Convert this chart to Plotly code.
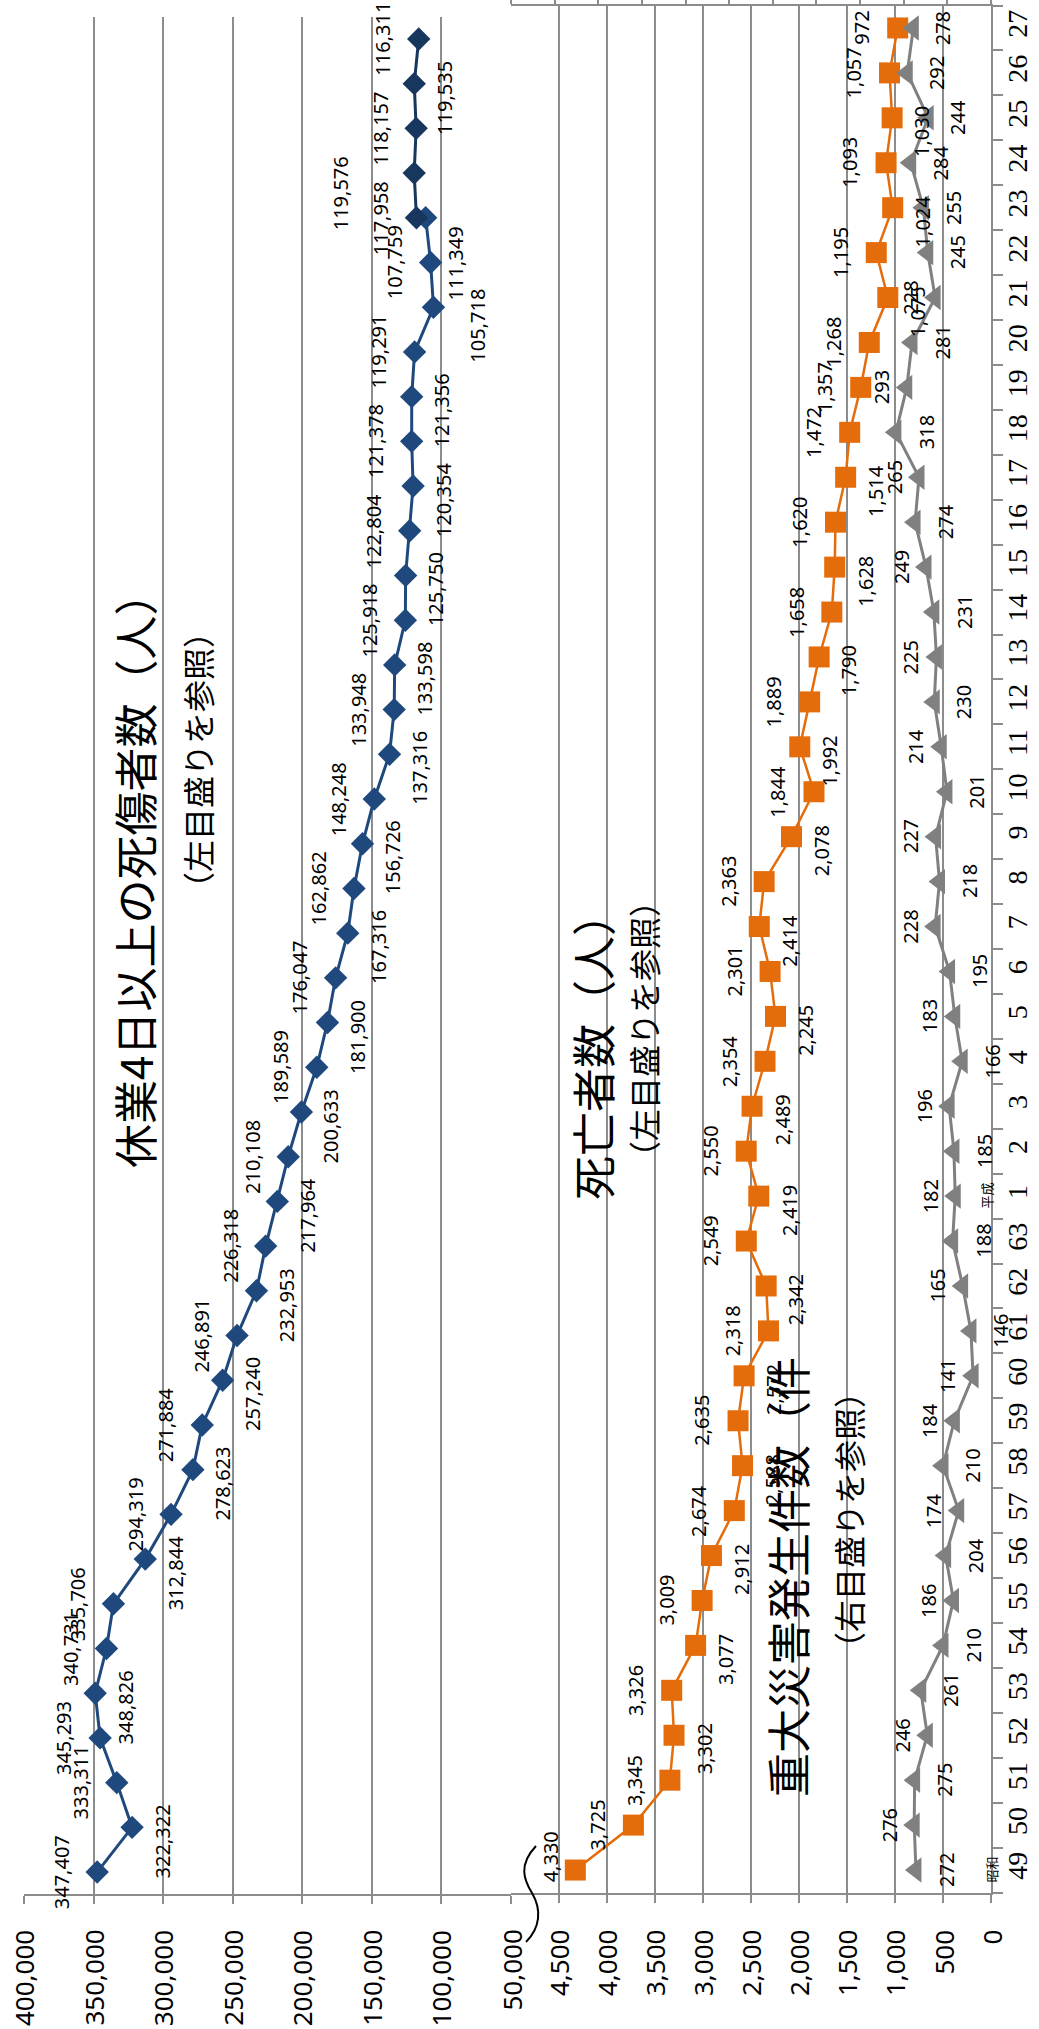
import plotly.graph_objects as go

# 年次：昭和49〜63年、平成元〜27年
years = [str(y) for y in range(49, 64)] + [str(y) for y in range(1, 28)]

# 休業4日以上の死傷者数（人） 昭和49〜平成23年
injuries = [347407, 322322, 333311, 345293, 348826, 340731, 335706, 312844,
            294319, 278623, 271884, 257240, 246891, 232953, 226318,
            217964, 210108, 200633, 189589, 181900, 176047, 167316, 162862,
            156726, 148248, 137316, 133948, 133598, 125918, 125750, 122804,
            120354, 121378, 121356, 119291, 105718, 107759, 111349]
injuries_years = years[:len(injuries)]
# 平成23〜27年（23年は東日本大震災を直接の原因とするものを含む）
injuries_recent_years = ["23", "24", "25", "26", "27"]
injuries_recent = [117958, 119576, 118157, 119535, 116311]

# 死亡者数（人）
deaths = [4330, 3725, 3345, 3302, 3326, 3077, 3009, 2912, 2674, 2588, 2635,
          2572, 2318, 2342, 2549, 2419, 2550, 2489, 2354, 2245, 2301, 2414,
          2363, 2078, 1844, 1992, 1889, 1790, 1658, 1628, 1620, 1514, 1472,
          1357, 1268, 1075, 1195, 1024, 1093, 1030, 1057, 972]

# 重大災害発生件数（件）
major = [272, 276, 275, 246, 261, 210, 186, 204, 174, 210, 184, 141, 146,
         165, 188, 182, 185, 196, 166, 183, 195, 228, 218, 227, 201, 214,
         230, 225, 231, 249, 274, 265, 318, 293, 281, 228, 245, 255, 284,
         244, 292, 278]

# 数値ラベルの位置（L: 値の大きい側, R: 値の小さい側）
injuries_side = ["L", "R", "L", "L", "R", "L", "L", "R", "L", "R", "L", "R",
                 "L", "R", "L", "R", "L", "R", "L", "R", "L", "R", "L", "R",
                 "L", "R", "L", "R", "L", "R", "L", "R", "L", "R", "L", "R",
                 "L", "R"]
injuries_recent_side = ["L", "L", "L", "R", "L"]
deaths_side = ["L", "L", "L", "R", "L", "R", "L", "R", "L", "R", "L", "R",
               "L", "R", "L", "R", "L", "R", "L", "R", "L", "R", "L", "R",
               "L", "R", "L", "R", "L", "R", "L", "R", "L", "L", "L", "R",
               "L", "R", "L", "R", "L", "L"]
major_side = ["R", "L", "R", "L", "R", "R", "L", "R", "L", "R", "L", "L",
              "R", "L", "R", "L", "R", "L", "R", "L", "R", "L", "R", "L",
              "R", "L", "R", "L", "R", "L", "R", "L", "R", "L", "R", "L",
              "R", "R", "R", "R", "R", "R"]

injury_ticks = list(range(50000, 400001, 50000))
death_ticks = list(range(0, 4501, 500))
major_ticks = list(range(100, 1201, 100))

W, H = 1039, 2029
GRID = "#8C8C8C"
NAVY = "#1F497D"
NAVY_DARK = "#17375E"
ORANGE = "#E46C0A"
GRAY = "#808080"
NUM_FONT = "Noto Sans"
JP_FONT = "Noto Sans CJK JP"


def px_x(p):
    return p / W


def px_y(p):
    return 1 - p / H


fig = go.Figure()

fig.add_trace(go.Scatter(
    x=deaths, y=years, xaxis="x", yaxis="y", mode="lines+markers",
    line=dict(color=ORANGE, width=2.5),
    marker=dict(symbol="square", size=21, color=ORANGE),
    showlegend=False, cliponaxis=False))

fig.add_trace(go.Scatter(
    x=major, y=years, xaxis="x3", yaxis="y", mode="lines+markers",
    line=dict(color=GRAY, width=3),
    marker=dict(symbol="triangle-left", size=22, color=GRAY),
    showlegend=False, cliponaxis=False))

fig.add_trace(go.Scatter(
    x=injuries, y=injuries_years, xaxis="x2", yaxis="y2", mode="lines+markers",
    line=dict(color=NAVY, width=3),
    marker=dict(symbol="diamond", size=18, color=NAVY),
    showlegend=False, cliponaxis=False))

fig.add_trace(go.Scatter(
    x=injuries_recent, y=injuries_recent_years, xaxis="x2", yaxis="y2",
    mode="lines+markers",
    line=dict(color=NAVY_DARK, width=3),
    marker=dict(symbol="diamond", size=18, color=NAVY_DARK),
    showlegend=False, cliponaxis=False))


def add_value_labels(values, cats, sides, xref, yref, left=(-36, 0),
                     right=(30, -14), moved=None):
    """数値ラベルを縦書きで配置（moved: 年次ごとの個別のずらし量）"""
    moved = moved or {}
    for v, c, s in zip(values, cats, sides):
        dx, dy = left if s == "L" else right
        dx, dy = moved.get(c, (dx, dy))
        fig.add_annotation(
            x=v, y=years.index(c), xref=xref, yref=yref, text=f"{v:,}",
            textangle=-90, showarrow=False, xanchor="center", yanchor="middle",
            xshift=dx, yshift=dy,
            font=dict(family=NUM_FONT, size=20, color="black"))


add_value_labels(injuries, injuries_years, injuries_side, "x2", "y2",
                 moved={"23": (30, -46), "21": (44, -18)})
add_value_labels(injuries_recent, injuries_recent_years, injuries_recent_side,
                 "x2", "y2", moved={"24": (-74, -20)})
add_value_labels(deaths, years, deaths_side, "x", "y",
                 moved={"49": (-25, 13)})
add_value_labels(major, years, major_side, "x3", "y",
                 left=(-25, 0), right=(30, 0))

# 目盛りラベル（軸線側に揃えた縦書き）
for ticks_, ref in ((injury_ticks, "x2"), (death_ticks, "x")):
    for v in ticks_:
        fig.add_annotation(x=v, y=px_y(1928), xref=ref, yref="paper",
                           text=f"{v:,}", textangle=-90, showarrow=False,
                           xanchor="center", yanchor="top",
                           font=dict(family=NUM_FONT, size=26, color="black"))

axis_common = dict(
    showgrid=True, gridcolor=GRID, gridwidth=1.5,
    showline=True, linecolor=GRID, linewidth=2,
    ticks="outside", ticklen=8, tickcolor=GRID, tickwidth=2,
    showticklabels=False, zeroline=False, automargin=False,
)

fig.update_layout(
    width=W, height=H,
    margin=dict(l=0, r=0, t=0, b=0),
    paper_bgcolor="white", plot_bgcolor="rgba(0,0,0,0)",
    xaxis=dict(domain=[px_x(511), px_x(991)], range=[5000, 0], anchor="y",
               tickvals=death_ticks, **axis_common),
    xaxis2=dict(domain=[px_x(24), px_x(511)], range=[400000, 50000], anchor="y2",
                tickvals=injury_ticks, **axis_common),
    xaxis3=dict(domain=[px_x(511), px_x(991)], range=[1200, 100], anchor="y",
                overlaying="x", side="top", tickvals=major_ticks,
                showgrid=False, showline=True, linecolor=GRID, linewidth=2,
                ticks="outside", ticklen=8, tickcolor=GRID, tickwidth=2,
                showticklabels=False, zeroline=False, automargin=False),
    yaxis=dict(domain=[px_y(1892.5), px_y(5.5)], type="category",
               categoryorder="array", categoryarray=years, range=[-0.5, 41.5],
               anchor="x", side="right", showgrid=False, zeroline=False,
               showline=True, linecolor=GRID, linewidth=2,
               ticks="outside", tickson="boundaries", ticklen=10,
               tickcolor=GRID, tickwidth=2, tickangle=-90, automargin=False,
               tickfont=dict(family="Liberation Sans Narrow", size=28, color="black")),
    yaxis2=dict(domain=[px_y(1894.4), px_y(16.6)], type="category",
                categoryorder="array", categoryarray=years, range=[-0.5, 41.5],
                anchor="x2", visible=False, automargin=False),
)

# 元号の表示
fig.add_annotation(x=px_x(1003), y=years.index("49"), xref="paper", yref="y",
                   text="昭和", textangle=-90, showarrow=False,
                   font=dict(family=JP_FONT, size=13, color="black"))
fig.add_annotation(x=px_x(998), y=years.index("1"), xref="paper", yref="y",
                   text="平成", textangle=-90, showarrow=False,
                   font=dict(family=JP_FONT, size=13, color="black"))

# 系列名
titles = [
    ("休業4日以上の死傷者数（人）", 134, 870, 44, "middle"),
    ("（左目盛りを参照）", 197, 760, 32, "middle"),
    ("死亡者数（人）", 592, 1046, 44, "middle"),
    ("（左目盛りを参照）", 643, 1029, 32, "middle"),
    ("重大災害発生件数（件", 787, 1799, 44, "bottom"),
    ("（右目盛りを参照）", 848, 1520, 32, "middle"),
]
for text, tx, ty, size, anchor in titles:
    fig.add_annotation(x=px_x(tx), y=px_y(ty), xref="paper", yref="paper",
                       text=text, textangle=-90, showarrow=False,
                       xanchor="center", yanchor=anchor,
                       font=dict(family=JP_FONT, size=size, color="black"))

# 軸の省略記号
pts = [(536, 1846), (518, 1865), (524, 1880), (532, 1893),
       (542, 1910), (540, 1928), (526, 1942)]
p = [(px_x(a), px_y(b)) for a, b in pts]
path = (f"M {p[0][0]},{p[0][1]} C {p[1][0]},{p[1][1]} {p[2][0]},{p[2][1]} {p[3][0]},{p[3][1]} "
        f"C {p[4][0]},{p[4][1]} {p[5][0]},{p[5][1]} {p[6][0]},{p[6][1]}")
fig.add_shape(type="path", path=path, xref="paper", yref="paper",
              line=dict(color="black", width=2))

fig.write_html("out.html")
